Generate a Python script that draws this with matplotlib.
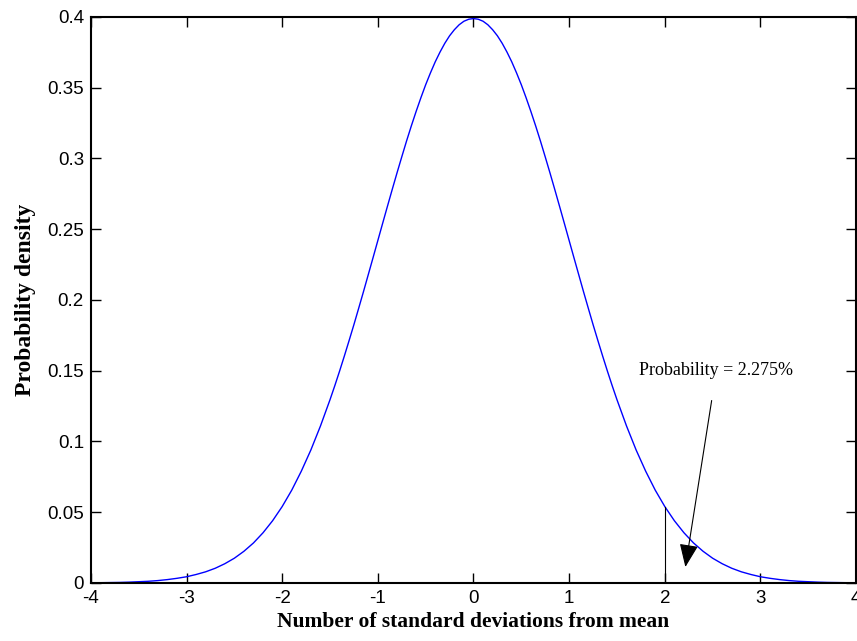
import matplotlib
matplotlib.use("Agg")
from matplotlib import pyplot as plt

# standard deviations from the mean and the density
sd = [-4.0, -3.9, -3.8, -3.7, -3.6, -3.5, -3.4, -3.3, -3.2, -3.1,
      -3.0, -2.9, -2.8, -2.7, -2.6, -2.5, -2.4, -2.3, -2.2, -2.1,
      -2.0, -1.9, -1.8, -1.7, -1.6,
      -1.5, -1.45, -1.4, -1.35, -1.3, -1.25, -1.2, -1.15, -1.1, -1.05,
      -1.0, -0.95, -0.9, -0.85, -0.8, -0.75, -0.7, -0.65, -0.6, -0.55,
      -0.5, -0.45, -0.4, -0.35, -0.3, -0.25, -0.2, -0.15, -0.1, -0.05,
      0.0,
      0.05, 0.1, 0.15, 0.2, 0.25, 0.3, 0.35, 0.4, 0.45, 0.5,
      0.55, 0.6, 0.65, 0.7, 0.75, 0.8, 0.85, 0.9, 0.95, 1.0,
      1.05, 1.1, 1.15, 1.2, 1.25, 1.3, 1.35, 1.4, 1.45, 1.5,
      1.6, 1.7, 1.8, 1.9, 2.0, 2.1, 2.2, 2.3, 2.4, 2.5,
      2.6, 2.7, 2.8, 2.9, 3.0, 3.1, 3.2, 3.3, 3.4, 3.5,
      3.6, 3.7, 3.8, 3.9, 4.0]
density = [0.0001, 0.0002, 0.0003, 0.0004, 0.0006, 0.0009, 0.0012, 0.0017, 0.0024, 0.0033,
           0.0044, 0.0060, 0.0079, 0.0104, 0.0136, 0.0175, 0.0224, 0.0283, 0.0355, 0.0440,
           0.0540, 0.0656, 0.0790, 0.0940, 0.1109,
           0.1295, 0.1394, 0.1497, 0.1604, 0.1714, 0.1826, 0.1942, 0.2059, 0.2179, 0.2299,
           0.2420, 0.2541, 0.2661, 0.2780, 0.2897, 0.3011, 0.3123, 0.3230, 0.3332, 0.3429,
           0.3521, 0.3605, 0.3683, 0.3752, 0.3814, 0.3867, 0.3910, 0.3945, 0.3970, 0.3984,
           0.3989,
           0.3984, 0.3970, 0.3945, 0.3910, 0.3867, 0.3814, 0.3752, 0.3683, 0.3605, 0.3521,
           0.3429, 0.3332, 0.3230, 0.3123, 0.3011, 0.2897, 0.2780, 0.2661, 0.2541, 0.2420,
           0.2299, 0.2179, 0.2059, 0.1942, 0.1826, 0.1714, 0.1604, 0.1497, 0.1394, 0.1295,
           0.1109, 0.0940, 0.0790, 0.0656, 0.0540, 0.0440, 0.0355, 0.0283, 0.0224, 0.0175,
           0.0136, 0.0104, 0.0079, 0.0060, 0.0044, 0.0033, 0.0024, 0.0017, 0.0012, 0.0009,
           0.0006, 0.0004, 0.0003, 0.0002, 0.0001]

cutoff = 2
cutoff_density = 0.054
xticks = [-4, -3, -2, -1, 0, 1, 2, 3, 4]
yticks = [0, 0.05, 0.1, 0.15, 0.2, 0.25, 0.3, 0.35, 0.4]
ytick_labels = ["0", "0.05", "0.1", "0.15", "0.2", "0.25", "0.3", "0.35", "0.4"]

fig = plt.figure(figsize=(8.57, 6.41), dpi=100)
ax = fig.add_axes([0.106, 0.0905, 0.893, 0.883])

ax.plot(sd, density, color="#0000ff", lw=1)
ax.plot([cutoff, cutoff], [0, cutoff_density], color="black", lw=0.8)

ax.annotate("Probability = 2.275%", xy=(2.215, 0.0113), xytext=(2.54, 0.1505),
            ha="center", va="center", family="Liberation Serif", fontsize=13,
            arrowprops=dict(arrowstyle="-|>,head_length=1.1,head_width=0.45",
                            color="black", lw=0.8, shrinkA=14, shrinkB=0))

ax.set_xlim(-4, 4)
ax.set_ylim(0, 0.4)
ax.set_xticks(xticks)
ax.set_yticks(yticks)
ax.set_xticklabels([str(v) for v in xticks])
ax.set_yticklabels(ytick_labels)
ax.tick_params(direction="in", length=7, width=1, top=True, right=True,
               labelsize=13.5, pad=5)
for lab in ax.get_xticklabels() + ax.get_yticklabels():
    lab.set_family("Liberation Sans")
for s in ax.spines.values():
    s.set_linewidth(1.5)

ax.set_xlabel("Number of standard deviations from mean", family="Liberation Serif",
              fontweight="bold", fontsize=15.5, labelpad=4)
ax.set_ylabel("Probability density", family="Liberation Serif",
              fontweight="bold", fontsize=17, labelpad=8)

fig.savefig("out.png", dpi=100)
plt.close('all')
